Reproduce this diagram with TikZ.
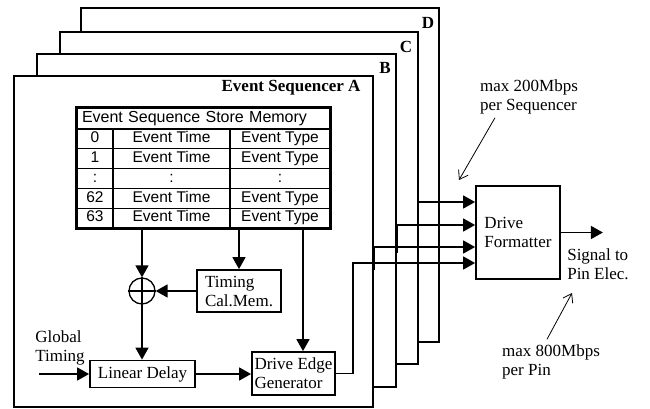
\documentclass[tikz,border=0pt]{standalone}
\usepackage{fontspec}
\setmainfont{Liberation Serif}
\newfontfamily\tabfont{Liberation Sans}
\usetikzlibrary{arrows.meta}

\tikzset{
  frame/.style={draw, line width=2pt, fill=white},
  blk/.style={draw, line width=1.8pt, fill=white, inner sep=0pt},
  cell/.style={draw, line width=1.3pt, inner sep=0pt, minimum height=19.8pt, text height=11pt, text depth=3.3pt,
               font=\tabfont\fontsize{15.5}{17}\selectfont},
  wire/.style={line width=1.6pt},
  sig/.style={wire, -{Triangle[length=12pt,width=13pt]}},
  note/.style={line width=0.8pt, -{Straight Barb[length=8pt,width=11pt]}},
  lbl/.style={font=\fontsize{17}{19}\selectfont\bfseries},
}

\begin{document}
\begin{tikzpicture}[x=1pt, y=-1pt, font=\fontsize{17}{19}\selectfont]
\useasboundingbox (0,0) rectangle (650,409);

% Drive Formatter
\node[blk, minimum width=84pt, minimum height=93pt, align=left] (fmt) at (518,232.5) {Drive\\Formatter};
\draw[sig] (fmt.east) -- ++(42,0);
\node[align=left] (pinTxt) at (598,264) {Signal to\\Pin Elec.};

% Rate notes
\node[align=left] (m200) at (529,97) {max 200Mbps\\per Sequencer};
\coordinate (m200tip) at (459,180);
\draw[note] ([xshift=-34pt]m200.south) -- (m200tip);
\node[align=left] (m800) at (551,362) {max 800Mbps\\per Pin};
\coordinate (m800tip) at (572,293);
\draw[note] ([xshift=-4pt,yshift=2pt]m800.north) -- (m800tip);

% Sequencer D
\draw[frame] (81,8) rectangle (439,342);
\node[lbl] (lblD) at (428,23) {D};
\coordinate (dOut) at (419,202);
\draw[sig] (dOut) -- (fmt.west |- dOut);

% Sequencer C
\draw[frame] (60,32) rectangle (418,364);
\node[lbl] (lblC) at (406,47) {C};
\coordinate (cLow) at (397,253);
\coordinate (cOut) at (397,225);
\draw[sig] (cLow) -- (cOut) -- (fmt.west |- cOut);

% Sequencer B
\draw[frame] (37,54) rectangle (396,387);
\node[lbl] (lblB) at (385,68) {B};
\coordinate (bLow) at (374.5,270);
\coordinate (bOut) at (374.5,247);
\draw[sig] (bLow) -- (bOut) -- (fmt.west |- bOut);

% Sequencer A
\draw[frame] (14,76) rectangle (373,407);
\node[lbl, anchor=east] (lblA) at (364,88) {Event Sequencer A};

% Store memory table
\node[cell, font=\tabfont\fontsize{16}{18}\selectfont, minimum width=253pt, minimum height=21pt,
      text width=243pt, align=left] (hdr) at (203.5,118.5) {Event Sequence Store Memory};
\foreach \r/\y/\n/\tm/\tp in {1/138.9/0/Event Time/Event Type, 2/158.7/1/Event Time/Event Type,
    3/178.5/:/:/:, 4/198.3/62/Event Time/Event Type, 5/218.1/63/Event Time/Event Type} {
  \node[cell, minimum width=36pt] (idx\r) at (95,\y) {\n};
  \node[cell, minimum width=117pt] (tm\r) at (171.5,\y) {\tm};
  \node[cell, minimum width=100pt] (tp\r) at (280,\y) {\tp};
}
\draw[line width=2.4pt] (hdr.north west) rectangle (tp5.south east);

% Timing path
\node[draw, circle, line width=1.3pt, minimum size=26pt, inner sep=0pt] (sum) at (142,291) {};
\draw[line width=1.3pt] (sum.north) -- (sum.south) (sum.west) -- (sum.east);
\node[blk, minimum width=84pt, minimum height=42pt, align=left] (tcm) at (239,291) {Timing\\Cal.Mem.};
\node[blk, minimum width=105pt, minimum height=27pt] (ld) at (142.5,374) {Linear Delay};
\node[blk, minimum width=83pt, minimum height=43pt, align=left] (deg) at (293.5,373.5) {Drive Edge\\Generator};
\node[align=left] (gTxt) at (60,347.5) {Global\\Timing};
\coordinate (gIn) at (39,374);
\coordinate (degTop) at ([xshift=9.5pt]deg.north);
\coordinate (aUp) at (353,263);

\draw[sig] (tm5.south -| sum) -- (sum.north);
\draw[sig] (tp5.south -| tcm) -- (tcm.north);
\draw[sig] (tcm.west) -- (sum.east);
\draw[sig] (sum.south) -- (sum.south |- ld.north);
\draw[sig] (gIn) -- (ld.west);
\draw[sig] (ld.east) -- (ld.east -| deg.west);
\draw[sig] (tp5.south -| degTop) -- (degTop);
\draw[sig] (deg.east) -| (aUp) -- (fmt.west |- aUp);
\end{tikzpicture}
\end{document}
